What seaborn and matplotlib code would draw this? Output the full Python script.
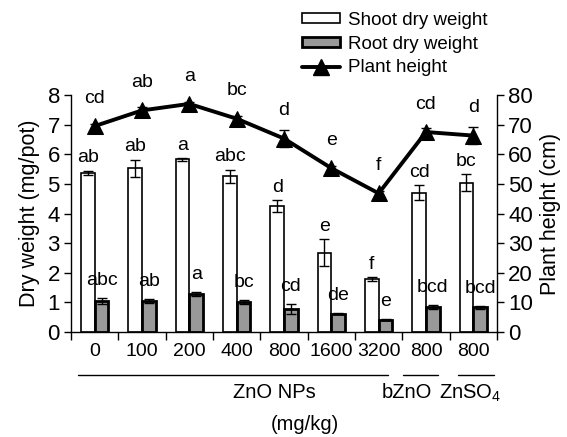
import numpy as np
import pandas as pd
import matplotlib
matplotlib.use("Agg")
import matplotlib.pyplot as plt
import matplotlib.transforms as mtrans
from matplotlib.patches import Patch
from matplotlib.lines import Line2D
import seaborn as sns

# ---------------- data ----------------
treat_ids = ["NP0", "NP100", "NP200", "NP400", "NP800", "NP1600", "NP3200", "bZnO800", "ZnSO4800"]
tick_labels = ["0", "100", "200", "400", "800", "1600", "3200", "800", "800"]

shoot = [5.38, 5.52, 5.83, 5.26, 4.24, 2.68, 1.78, 4.70, 5.04]
shoot_err = [0.07, 0.30, 0.05, 0.22, 0.20, 0.45, 0.07, 0.25, 0.28]
shoot_letters = ["ab", "ab", "a", "abc", "d", "e", "f", "cd", "bc"]

root = [1.04, 1.05, 1.28, 1.01, 0.78, 0.62, 0.42, 0.85, 0.83]
root_err = [0.10, 0.07, 0.08, 0.07, 0.17, 0.02, 0.03, 0.07, 0.05]
root_letters = ["abc", "ab", "a", "bc", "cd", "de", "e", "bcd", "bcd"]

height = [69.5, 74.8, 77.0, 72.0, 65.3, 55.3, 46.8, 67.5, 66.3]
height_err = [0.8, 1.2, 0.8, 1.0, 3.0, 0.8, 0.8, 1.2, 2.8]
height_letters = ["cd", "ab", "a", "bc", "d", "e", "f", "cd", "d"]

groups = ["ZnO NPs", "bZnO", "ZnSO$_4$"]
group_line_x = [(-0.35, 6.20), (6.51, 7.25), (7.68, 8.44)]
group_text_x = [3.79, 6.60, 7.93]
unit_label = "(mg/kg)"

# ---------------- style ----------------
sns.set_theme(style="ticks")
plt.rcParams["font.family"] = ["Liberation Sans", "DejaVu Sans"]
plt.rcParams["mathtext.fontset"] = "custom"
plt.rcParams["mathtext.rm"] = "Liberation Sans"
plt.rcParams["mathtext.default"] = "regular"
for k in ["text.color", "axes.labelcolor", "xtick.color", "ytick.color", "axes.edgecolor"]:
    plt.rcParams[k] = "black"

FS = 14
fig = plt.figure(figsize=(5.67, 4.37), dpi=100)
ax = fig.add_axes([71 / 567, 1 - 332 / 437, 426 / 567, 237 / 437])

df = pd.DataFrame({
    "treatment": treat_ids * 2,
    "value": shoot + root,
    "part": ["Shoot"] * 9 + ["Root"] * 9,
})
sns.barplot(data=df, x="treatment", y="value", hue="part", order=treat_ids,
            hue_order=["Shoot", "Root"],
            palette={"Shoot": "white", "Root": "#999999"},
            width=0.58, gap=0, edgecolor="black", linewidth=1.2,
            errorbar=None, legend=False, ax=ax, zorder=2)
for p in ax.patches:
    fc = p.get_facecolor()
    if fc[0] < 0.9:
        p.set_linewidth(2.0)

x = np.arange(len(treat_ids))
ax.errorbar(x - 0.145, shoot, yerr=shoot_err, fmt="none", ecolor="black",
            elinewidth=1.0, capsize=3.5, capthick=1.0, zorder=3)
ax.errorbar(x + 0.145, root, yerr=root_err, fmt="none", ecolor="black",
            elinewidth=1.0, capsize=3.5, capthick=1.0, zorder=3)

for i in range(len(x)):
    ax.annotate(shoot_letters[i], (x[i] - 0.145, shoot[i] + shoot_err[i]),
                xytext=(0, 3), textcoords="offset points", ha="center",
                va="bottom", fontsize=FS)
    ax.annotate(root_letters[i], (x[i] + 0.145, root[i] + root_err[i]),
                xytext=(0, 6.5), textcoords="offset points", ha="center",
                va="bottom", fontsize=FS)

ax2 = ax.twinx()
sns.lineplot(x=x, y=height, ax=ax2, color="black", linewidth=2.8,
             marker="^", markersize=11.5, markeredgecolor="black", zorder=4)
ax2.errorbar(x, height, yerr=height_err, fmt="none", ecolor="black",
             elinewidth=1.0, capsize=3.5, capthick=1.0, zorder=3)
for i in range(len(x)):
    ax2.annotate(height_letters[i], (x[i], height[i]), xytext=(0, 20),
                 textcoords="offset points", ha="center", va="center",
                 fontsize=FS)

ax.set_xlim(-0.5, 8.5)
ax.set_ylim(0, 8)
ax2.set_ylim(0, 80)
ax.set_yticks(range(0, 9))
ax2.set_yticks(range(0, 81, 10))

ax.set_xticks(np.arange(-0.5, 9.0, 1.0))
ax.set_xticklabels([""] * 10)
ax.set_xticks(x, minor=True)
ax.set_xticklabels(tick_labels, minor=True, fontsize=FS)
ax.tick_params(axis="x", which="major", direction="out", length=6, width=1, color="black")
ax.tick_params(axis="x", which="minor", length=0, pad=8)
ax.tick_params(axis="y", direction="out", length=5, width=1, color="black",
               labelsize=FS + 2, pad=3)
ax2.tick_params(axis="y", direction="out", length=5, width=1, color="black",
                labelsize=FS + 2, pad=3)
ax.set_xlabel("")
ax.set_ylabel("Dry weight (mg/pot)", fontsize=15.5, labelpad=5)
ax2.set_ylabel("Plant height (cm)", fontsize=15.5, labelpad=5)

for a in (ax, ax2):
    a.spines["top"].set_visible(False)
    for s in a.spines.values():
        s.set_color("black")
        s.set_linewidth(1.0)
ax.spines["right"].set_visible(False)
ax2.spines["left"].set_visible(False)
ax2.spines["bottom"].set_visible(False)

# group lines and labels below the axis
blend = mtrans.blended_transform_factory(ax.transData, fig.transFigure)
yline = 1 - 375 / 437
for (x0, x1) in group_line_x:
    fig.add_artist(Line2D([x0, x1], [yline, yline], transform=blend,
                          color="black", linewidth=1.0))
for name, gx in zip(groups, group_text_x):
    fig.text(gx, 1 - 393 / 437, name, transform=blend, ha="center",
             va="center", fontsize=FS + 0.5)
fig.text(4.44, 1 - 425 / 437, unit_label, transform=blend, ha="center",
         va="center", fontsize=FS + 0.5)

handles = [
    Patch(facecolor="white", edgecolor="black", linewidth=1.2),
    Patch(facecolor="#999999", edgecolor="black", linewidth=2.0),
    Line2D([], [], color="black", linewidth=2.8, marker="^", markersize=11),
]
fig.legend(handles, ["Shoot dry weight", "Root dry weight", "Plant height"],
           loc="upper left", bbox_to_anchor=(302 / 567, 1 - 12 / 437),
           frameon=False, fontsize=13.5, handlelength=2.0, handleheight=0.45,
           handletextpad=0.45, labelspacing=0.36, borderpad=0, borderaxespad=0)

fig.savefig("out.png", dpi=100)
